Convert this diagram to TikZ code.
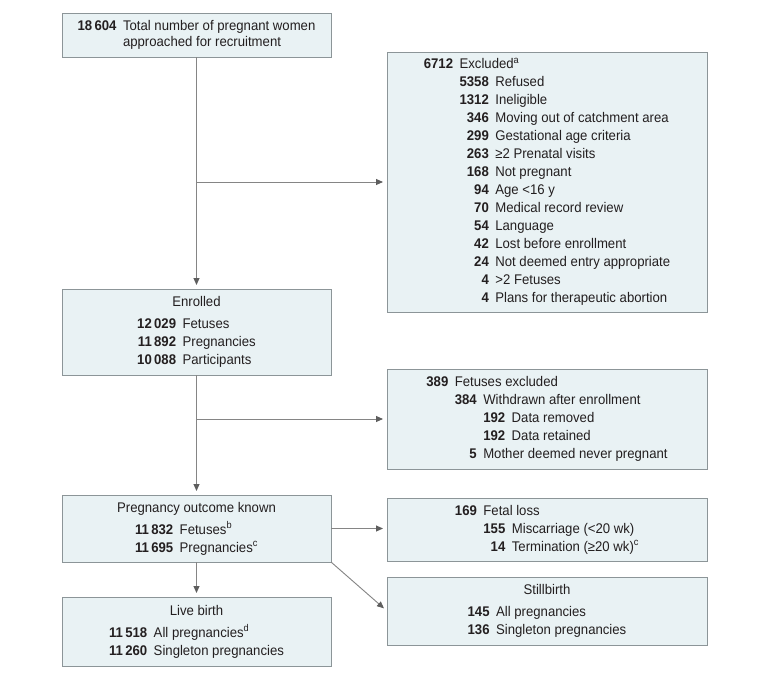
\documentclass[tikz,border=0pt]{standalone}
\usepackage{fontspec}
\setmainfont{Liberation Sans}[FakeStretch=0.94]
\usetikzlibrary{arrows.meta}
\definecolor{boxfill}{HTML}{E9F2F4}
\definecolor{boxline}{HTML}{8C9598}
\definecolor{arrline}{HTML}{858585}
\definecolor{arrhead}{HTML}{5E5E5E}
\definecolor{txt}{HTML}{231F20}
\newcommand{\cgap}{\hspace{6.5pt}}
\newcommand{\titled}[2]{\begin{tabular}{@{}c@{}}#1\\[4pt]\begin{tabular}[t]{@{}r@{\cgap}l@{}}#2\end{tabular}\end{tabular}}
\tikzset{
  box/.style={draw=boxline, fill=boxfill, line width=0.9pt, inner sep=0pt, outer sep=0pt,
    text=txt, font=\fontsize{14}{18}\selectfont},
  arr/.style={draw=arrline, line width=0.9pt,
    -{Triangle[length=7pt,width=6pt,color=arrhead]}, shorten >=4pt},
  lwide/.style={minimum width=269pt},
  rwide/.style={minimum width=320pt}
}
\begin{document}
\begin{tikzpicture}[x=1pt,y=-1pt]
\useasboundingbox (0,0) rectangle (780,680);

\node[box,lwide,minimum height=44pt] (top) at (196.5,35) {%
  \fontsize{14}{16}\selectfont
  \begin{tabular}{@{}r@{\cgap}l@{}}
  \textbf{18\,604} & Total number of pregnant women\\
  & approached for recruitment
  \end{tabular}};

\node[box,rwide,minimum height=260pt] (excl) at (547,182) {%
  \begin{tabular}{@{}r@{\cgap}r@{\cgap}l@{}}
  \textbf{6712} & \multicolumn{2}{@{}l@{}}{Excluded\textsuperscript{a}}\\
  & \textbf{5358} & Refused\\
  & \textbf{1312} & Ineligible\\
  & \textbf{346} & Moving out of catchment area\\
  & \textbf{299} & Gestational age criteria\\
  & \textbf{263} & ≥2 Prenatal visits\\
  & \textbf{168} & Not pregnant\\
  & \textbf{94} & Age <16 y\\
  & \textbf{70} & Medical record review\\
  & \textbf{54} & Language\\
  & \textbf{42} & Lost before enrollment\\
  & \textbf{24} & Not deemed entry appropriate\\
  & \textbf{4} & >2 Fetuses\\
  & \textbf{4} & Plans for therapeutic abortion
  \end{tabular}};

\node[box,lwide,minimum height=86pt] (enr) at (196.5,332) {%
  \titled{Enrolled}{%
  \textbf{12\,029} & Fetuses\\
  \textbf{11\,892} & Pregnancies\\
  \textbf{10\,088} & Participants}};

\node[box,rwide,minimum height=100pt] (fex) at (547,419) {%
  \begin{tabular}{@{}r@{\cgap}r@{\cgap}r@{\cgap}l@{}}
  \textbf{389} & \multicolumn{3}{@{}l@{}}{Fetuses excluded}\\
  & \textbf{384} & \multicolumn{2}{@{}l@{}}{Withdrawn after enrollment}\\
  & & \textbf{192} & Data removed\\
  & & \textbf{192} & Data retained\\
  & \textbf{5} & \multicolumn{2}{@{}l@{}}{Mother deemed never pregnant}
  \end{tabular}};

\node[box,lwide,minimum height=67pt] (preg) at (196.5,528.5) {%
  \titled{Pregnancy outcome known}{%
  \textbf{11\,832} & Fetuses\textsuperscript{b}\\
  \textbf{11\,695} & Pregnancies\textsuperscript{c}}};

\node[box,rwide,minimum height=63pt] (fl) at (547,529.5) {%
  \begin{tabular}{@{}r@{\cgap}r@{\cgap}l@{}}
  \textbf{169} & \multicolumn{2}{@{}l@{}}{Fetal loss}\\
  & \textbf{155} & Miscarriage (<20 wk)\\
  & \textbf{14} & Termination (≥20 wk)\textsuperscript{c}
  \end{tabular}};

\node[box,rwide,minimum height=68pt] (sb) at (547,611) {%
  \titled{Stillbirth}{%
  \textbf{145} & All pregnancies\\
  \textbf{136} & Singleton pregnancies}};

\node[box,lwide,minimum height=69pt] (lb) at (196.5,631.5) {%
  \titled{Live birth}{%
  \textbf{11\,518} & All pregnancies\textsuperscript{d}\\
  \textbf{11\,260} & Singleton pregnancies}};

% connectors
\coordinate (b1) at (top.south |- excl.west);
\coordinate (b2) at (enr.south |- fex.west);
\draw[arr] (top.south) -- (enr.north);
\draw[arr] (b1) -- (excl.west);
\draw[arr] (enr.south) -- (preg.north);
\draw[arr] (b2) -- (fex.west);
\draw[arr] (preg.east) -- (preg.east -| fl.west);
\draw[arr] (preg.south) -- (lb.north);
\draw[arr] (preg.south east) -- (sb.west);
\end{tikzpicture}
\end{document}
